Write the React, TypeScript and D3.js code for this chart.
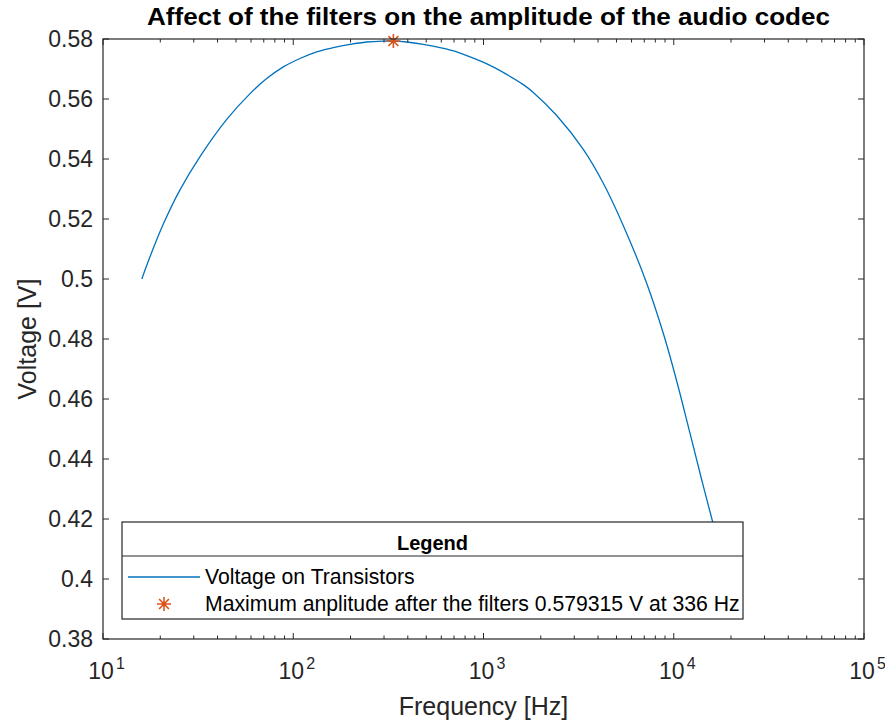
import React from "react";
import * as d3 from "d3";

const freqHz = [16, 17.66, 20.75, 25.39, 32.36, 44.7, 59.3, 72.5, 88.7, 108.5, 132.8, 162.4, 198.8, 243.2, 297.4, 336, 394.8, 482.7, 590.6, 722.9, 884, 1082, 1324, 1619, 1827, 2425, 3346, 4263, 5657, 7206, 8810, 10363, 12170, 14030, 16020, 17500];
const voltage = [0.5, 0.5074, 0.5183, 0.5297, 0.5408, 0.5532, 0.5618, 0.5668, 0.5707, 0.5735, 0.5757, 0.5771, 0.5782, 0.579, 0.5793, 0.579315, 0.579, 0.5782, 0.5771, 0.5757, 0.5736, 0.5712, 0.5682, 0.5648, 0.5622, 0.5545, 0.5432, 0.5319, 0.5152, 0.4986, 0.4819, 0.466, 0.4486, 0.433, 0.419, 0.409];
const peakFreq = 336;
const peakVolt = 0.579315;
const xMajorExps = [1, 2, 3, 4, 5];
const yTicks = [0.38, 0.4, 0.42, 0.44, 0.46, 0.48, 0.5, 0.52, 0.54, 0.56, 0.58];
const titleText = "Affect of the filters on the amplitude of the audio codec";
const xLabel = "Frequency [Hz]";
const yLabel = "Voltage [V]";
const legendTitle = "Legend";
const legendItems = ["Voltage on Transistors", "Maximum anplitude after the filters 0.579315 V at 336 Hz"];

const W = 885, H = 724;
const L = 103, R = 864, T = 39, B = 639;
const AX = "#262626";
const FONT = "'Liberation Sans', Arial, Helvetica, sans-serif";

function Star({ cx, cy, r }: { cx: number; cy: number; r: number }) {
  const d2 = r * Math.SQRT1_2;
  const p = `M${cx - r},${cy}L${cx + r},${cy}M${cx},${cy - r}L${cx},${cy + r}M${cx - d2},${cy - d2}L${cx + d2},${cy + d2}M${cx - d2},${cy + d2}L${cx + d2},${cy - d2}`;
  return <path d={p} stroke="#D95319" strokeWidth={1.6} fill="none" />;
}

export default function App() {
  const x = d3.scaleLog().domain([10, 1e5]).range([L, R]);
  const y = d3.scaleLinear().domain([0.38, 0.58]).range([B, T]);
  const pts = freqHz.map((f, i) => [f, voltage[i]] as [number, number]);
  const line = d3.line<[number, number]>().x(d => x(d[0])).y(d => y(d[1])).curve(d3.curveCatmullRom.alpha(0.5))(pts) || "";

  const minor: number[] = [];
  for (let e = 1; e < 5; e++) for (let m = 2; m <= 9; m++) minor.push(m * Math.pow(10, e));

  const lgL = 122, lgR = 743, lgT = 522, lgB = 619, lgDiv = 556;

  return (
    <svg width={W} height={H} style={{ position: "absolute", left: 0, top: 0, background: "#fff" }} fontFamily={FONT}>
      <rect x={0} y={0} width={W} height={H} fill="#fff" />
      <path d={line} fill="none" stroke="#0072BD" strokeWidth={1.3} />
      <Star cx={x(peakFreq)} cy={y(peakVolt)} r={7} />
      {xMajorExps.map(e => {
        const xx = x(Math.pow(10, e));
        return (
          <g key={"xm" + e}>
            <line x1={xx} x2={xx} y1={B} y2={B - 6} stroke={AX} />
            <line x1={xx} x2={xx} y1={T} y2={T + 6} stroke={AX} />
            <text x={xx - 2} y={679} textAnchor="middle" fontSize={23} fill={AX}>10</text>
            <text x={xx + 13} y={669} fontSize={16} fill={AX}>{e}</text>
          </g>
        );
      })}
      {minor.map(v => (
        <g key={"mn" + v}>
          <line x1={x(v)} x2={x(v)} y1={B} y2={B - 3.5} stroke={AX} />
          <line x1={x(v)} x2={x(v)} y1={T} y2={T + 3.5} stroke={AX} />
        </g>
      ))}
      {yTicks.map(v => (
        <g key={"y" + v}>
          <line x1={L} x2={L + 6} y1={y(v)} y2={y(v)} stroke={AX} />
          <line x1={R} x2={R - 6} y1={y(v)} y2={y(v)} stroke={AX} />
          <text x={93} y={y(v)} dy="0.36em" textAnchor="end" fontSize={23} fill={AX}>{d3.format("")(+v.toFixed(2))}</text>
        </g>
      ))}
      <rect x={L} y={T} width={R - L} height={B - T} fill="none" stroke={AX} strokeWidth={1.2} />
      <rect x={lgL} y={lgT} width={lgR - lgL} height={lgB - lgT} fill="#fff" stroke={AX} strokeWidth={1.2} />
      <line x1={lgL} x2={lgR} y1={lgDiv} y2={lgDiv} stroke={AX} strokeWidth={1.2} />
      <text x={(lgL + lgR) / 2} y={550} textAnchor="middle" fontSize={20} fontWeight="bold" fill="#000">{legendTitle}</text>
      <line x1={128} x2={200} y1={577} y2={577} stroke="#0072BD" strokeWidth={1.3} />
      <text x={205} y={584} fontSize={21.2} fill="#000">{legendItems[0]}</text>
      <Star cx={164} cy={604} r={7} />
      <text x={205} y={611} fontSize={21.2} fill="#000">{legendItems[1]}</text>
      <text x={(L + R) / 2 + 5} y={25} textAnchor="middle" fontSize={24.5} fontWeight="bold" fill="#000" textLength={683} lengthAdjust="spacingAndGlyphs">{titleText}</text>
      <text x={(L + R) / 2} y={715} textAnchor="middle" fontSize={25} fill={AX}>{xLabel}</text>
      <text transform={`translate(36,${(T + B) / 2}) rotate(-90)`} textAnchor="middle" fontSize={25} fill={AX}>{yLabel}</text>
    </svg>
  );
}
